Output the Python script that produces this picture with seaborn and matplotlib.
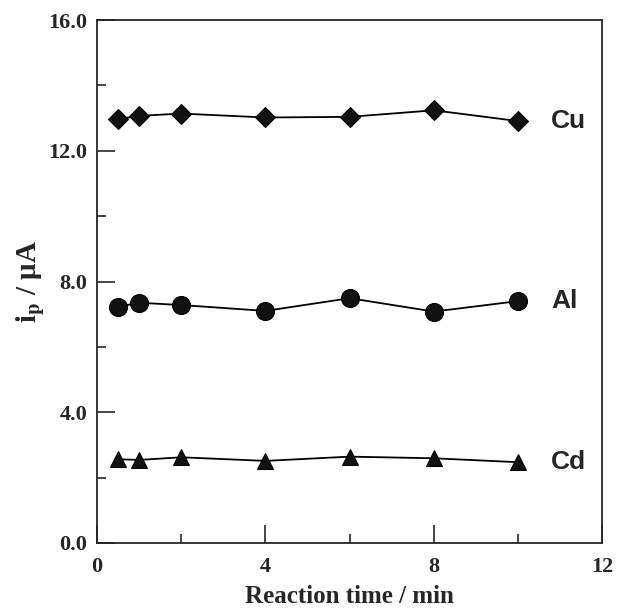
import numpy as np
import pandas as pd
import matplotlib
matplotlib.use("Agg")
import matplotlib.pyplot as plt
import seaborn as sns
from matplotlib.ticker import MultipleLocator, FormatStrFormatter

# reaction time (min) and peak currents (uA)
time_min = [0.5, 1, 2, 4, 6, 8, 10]
cu_ip = [12.97, 13.07, 13.14, 13.02, 13.04, 13.24, 12.91]
al_ip = [7.23, 7.35, 7.28, 7.10, 7.49, 7.08, 7.40]
cd_ip = [2.56, 2.54, 2.62, 2.51, 2.64, 2.59, 2.47]
metals = ["Cu", "Al", "Cd"]

sns.set_style("ticks")
plt.rcParams['font.family'] = ['Liberation Serif', 'DejaVu Serif']
plt.rcParams['mathtext.fontset'] = 'stix'

df = pd.DataFrame({
    "time": time_min * 3,
    "ip": cu_ip + al_ip + cd_ip,
    "metal": np.repeat(metals, len(time_min)),
})

fig = plt.figure(figsize=(6.3, 6.1), dpi=100)
ax = fig.add_axes([0.154, 0.11, 0.802, 0.857])

marker_of = {"Cu": "D", "Al": "o", "Cd": "^"}
size_of = {"Cu": 10, "Al": 13, "Cd": 11}
for m in metals:
    sub = df[df.metal == m]
    sns.lineplot(data=sub, x="time", y="ip", ax=ax, color="black", lw=1.3,
                 marker=marker_of[m], markersize=size_of[m],
                 markeredgecolor="black", markerfacecolor="#111111")
    last = sub.iloc[-1]
    ax.text(last.time + 0.78, last.ip, m, fontsize=19, fontweight="bold",
            family="Liberation Sans", va="center", ha="left")

ax.set_xlim(0, 12)
ax.set_ylim(0, 16)
ax.xaxis.set_major_locator(MultipleLocator(4))
ax.xaxis.set_minor_locator(MultipleLocator(2))
ax.yaxis.set_major_locator(MultipleLocator(4))
ax.yaxis.set_minor_locator(MultipleLocator(2))
ax.yaxis.set_major_formatter(FormatStrFormatter("%.1f"))
ax.tick_params(which="major", direction="in", length=13, width=1.2,
               labelsize=16)
ax.tick_params(axis="x", which="major", pad=10)
ax.tick_params(axis="y", which="major", pad=7)
ax.tick_params(which="minor", direction="in", length=6.5, width=1.2)
for lab in ax.get_xticklabels() + ax.get_yticklabels():
    lab.set_fontweight("bold")
for sp in ax.spines.values():
    sp.set_linewidth(1.3)
    sp.set_visible(True)

ax.set_xlabel("Reaction time / min", fontsize=18, fontweight="bold", labelpad=6)
ax.set_ylabel(r"$\mathbf{i_p}$ / μA", fontsize=21, fontweight="bold", labelpad=2)

fig.savefig("out.png", dpi=100)
